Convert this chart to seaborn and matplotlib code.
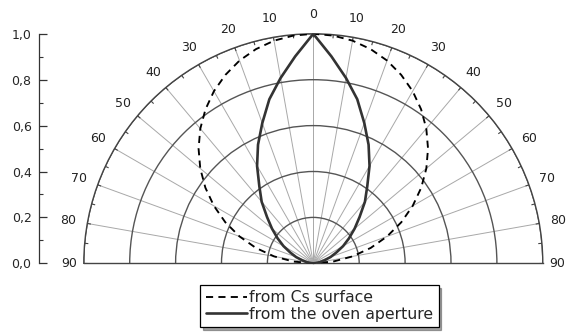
import numpy as np
import pandas as pd
import matplotlib
matplotlib.use("Agg")
import matplotlib.pyplot as plt
import seaborn as sns

# ---------------- data ----------------
angles_deg = [-90, -85, -80, -75, -70, -65, -60, -55, -50, -45, -40, -35, -30, -25,
              -20, -15, -10, -5, 0, 5, 10, 15, 20, 25, 30, 35, 40, 45, 50, 55, 60,
              65, 70, 75, 80, 85, 90]
cs_surface = [0.0, 0.087, 0.174, 0.259, 0.342, 0.423, 0.5, 0.574, 0.643, 0.707,
              0.766, 0.819, 0.866, 0.906, 0.94, 0.966, 0.985, 0.996, 1.0, 0.996,
              0.985, 0.966, 0.94, 0.906, 0.866, 0.819, 0.766, 0.707, 0.643, 0.574,
              0.5, 0.423, 0.342, 0.259, 0.174, 0.087, 0.0]
oven_aperture = [0.0, 0.01, 0.03, 0.05, 0.08, 0.11, 0.15, 0.19, 0.235, 0.285, 0.35,
                 0.41, 0.49, 0.57, 0.65, 0.74, 0.82, 0.905, 1.0, 0.905, 0.82, 0.74,
                 0.65, 0.57, 0.49, 0.41, 0.35, 0.285, 0.235, 0.19, 0.15, 0.11, 0.08,
                 0.05, 0.03, 0.01, 0.0]
series_labels = ["from Cs surface", "from the oven aperture"]
theta_ticks = [-90, -80, -70, -60, -50, -40, -30, -20, -10, 0, 10, 20, 30, 40, 50, 60, 70, 80, 90]
theta_tick_labels = ["90", "80", "70", "60", "50", "40", "30", "20", "10", "0",
                     "10", "20", "30", "40", "50", "60", "70", "80", "90"]
theta_minor = [-85, -75, -65, -55, -45, -35, -25, -15, -5, 5, 15, 25, 35, 45, 55, 65, 75, 85]
r_grid = [0.2, 0.4, 0.6, 0.8, 1.0]
y_ticks = [0.0, 0.2, 0.4, 0.6, 0.8, 1.0]
y_tick_labels = ["0,0", "0,2", "0,4", "0,6", "0,8", "1,0"]
y_minor = [0.1, 0.3, 0.5, 0.7, 0.9]

sns.set_style("white")
plt.rcParams["font.family"] = ["DejaVu Sans"]

df_cs = pd.DataFrame({"theta": np.deg2rad(angles_deg), "r": cs_surface})
df_ov = pd.DataFrame({"theta": np.deg2rad(angles_deg), "r": oven_aperture})

W, H = 567, 332
cx, cy, R = 313.3, 263.3, 229.5
fig = plt.figure(figsize=(W / 100, H / 100), dpi=100)
# square box: the 2:1 half-disc is fitted into it, centred vertically
sq_bottom_px = cy + 0.5 * R
ax = fig.add_axes([(cx - R) / W, (H - sq_bottom_px) / H, 2 * R / W, 2 * R / H],
                  projection="polar")
ax.set_theta_zero_location("N")
ax.set_theta_direction(-1)
ax.set_thetamin(-90)
ax.set_thetamax(90)
ax.set_ylim(0, 1)

ax.set_rticks(r_grid)
ax.set_yticklabels([])
ax.set_xticks(np.deg2rad(theta_ticks))
ax.set_xticklabels([])
ax.tick_params(axis="x", which="both", length=0)
ax.xaxis.grid(True, color="#a8a8a8", lw=0.7)
ax.yaxis.grid(True, color="#555555", lw=1.0)
for name, sp in ax.spines.items():
    sp.set_color("#444444")
    sp.set_linewidth(1.0)

# small inward tick marks on the outer circle every 5 degrees
ax.vlines(np.deg2rad(theta_ticks + theta_minor), 0.984, 1.0, color="#444444", lw=0.8)

sns.lineplot(data=df_cs, x="theta", y="r", ax=ax, color="black", lw=1.35,
             linestyle=(0, (3.8, 2.8)), label=series_labels[0], sort=False, zorder=3)
sns.lineplot(data=df_ov, x="theta", y="r", ax=ax, color="#333333", lw=1.9,
             label=series_labels[1], sort=False, zorder=4)
ax.set_xlabel("")
ax.set_ylabel("")
handles, labels = ax.get_legend_handles_labels()
ax.get_legend().remove()

for a, lab in zip(theta_ticks, theta_tick_labels):
    rr = 1.063 if abs(a) == 90 else 1.085
    ax.text(np.deg2rad(a), rr, lab, ha="center", va="center", fontsize=9, color="#222")

# left radial scale
axl = fig.add_axes([38.5 / W, (H - cy) / H, 0.0001, R / H])
axl.set_ylim(0, 1)
axl.set_xticks([])
axl.patch.set_visible(False)
for s in ["top", "right", "bottom"]:
    axl.spines[s].set_visible(False)
axl.spines["left"].set_color("#333333")
axl.spines["left"].set_linewidth(0.9)
axl.set_yticks(y_ticks)
axl.set_yticklabels(y_tick_labels)
axl.set_yticks(y_minor, minor=True)
axl.tick_params(axis="y", which="major", direction="in", length=6, width=0.9,
                color="#333333", labelsize=9, pad=5, left=True)
axl.tick_params(axis="y", which="minor", direction="in", length=3, width=0.8,
                color="#333333", left=True)

leg = fig.legend(handles, labels, loc="center", bbox_to_anchor=(319.5 / W, 1 - 306 / H),
                 fontsize=11.3, frameon=True, fancybox=False, shadow=True,
                 handlelength=2.6, handletextpad=0.15, borderpad=0.35,
                 labelspacing=0.1, borderaxespad=0)
leg.get_frame().set_edgecolor("black")
leg.get_frame().set_linewidth(0.9)

fig.savefig("out.png", dpi=100)
